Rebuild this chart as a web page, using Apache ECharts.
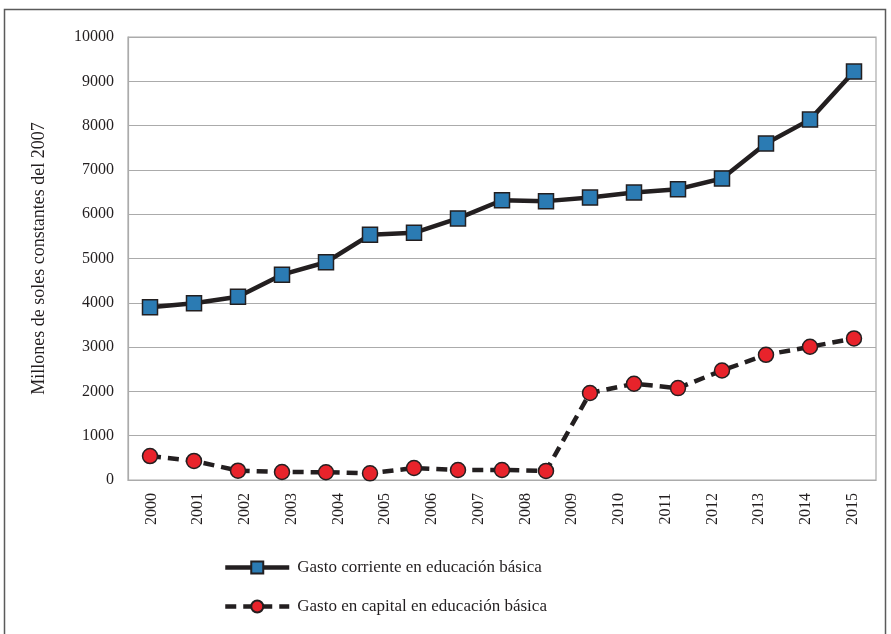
<!DOCTYPE html>
<html>
<head>
<meta charset="utf-8">
<script src="https://cdn.jsdelivr.net/npm/echarts@6/dist/echarts.min.js"></script>
<style>
  html, body { margin: 0; padding: 0; background: #ffffff; }
  #chart { width: 891px; height: 634px; }
</style>
</head>
<body>
<div id="chart"></div>
<script>
// Year labels shown along the bottom axis
const yearLabels = ['2000','2001','2002','2003','2004','2005','2006','2007',
                    '2008','2009','2010','2011','2012','2013','2014','2015'];

// Data slots: the series carry 17 observations, spread evenly over the plot width
const slotLabels = ['1','2','3','4','5','6','7','8','9','10','11','12','13','14','15','16','17'];

// Millones de soles constantes del 2007
const gastoCorriente = [3900, 3990, 4135, 4635, 4915, 5535, 5580, 5905,
                        6315, 6295, 6375, 6490, 6565, 6805, 7595, 8135, 9220];
const gastoCapital   = [540, 430, 211, 181, 175, 150, 271, 226,
                        226, 205, 1964, 2173, 2074, 2471, 2826, 3007, 3196];

const seriesNames = ['Gasto corriente en educación básica',
                     'Gasto en capital en educación básica'];

const FONT = '"Liberation Serif", "DejaVu Serif", serif';
const chart = echarts.init(document.getElementById('chart'), null, { renderer: 'canvas' });

chart.setOption({
  backgroundColor: '#ffffff',
  animation: false,
  graphic: [{
    type: 'rect',
    shape: { x: 4.5, y: 9.5, width: 881, height: 640 },
    style: { fill: 'none', stroke: '#5a5a5a', lineWidth: 1.5 },
    silent: true
  }],
  grid: {
    left: 128, right: 15, top: 37, bottom: 154,
    show: true, borderColor: '#ababab', borderWidth: 1.2,
    backgroundColor: 'transparent'
  },
  legend: {
    orient: 'vertical',
    left: 218, top: 554,
    itemWidth: 64, itemHeight: 15,
    itemGap: 22,
    lineStyle: { width: 4.5 },
    textStyle: { fontFamily: FONT, fontSize: 17, color: '#231f20', padding: [0, 0, 0, 3] },
    data: seriesNames
  },
  xAxis: [{
    type: 'category',
    data: yearLabels,
    boundaryGap: true,
    axisLine: { lineStyle: { color: '#ababab', width: 1.2 } },
    axisTick: { show: false },
    axisLabel: {
      rotate: 90, margin: 13, interval: 0,
      fontFamily: FONT, fontSize: 16, color: '#231f20'
    },
    splitLine: { show: false }
  }, {
    type: 'category',
    data: slotLabels,
    boundaryGap: true,
    show: false
  }],
  yAxis: {
    type: 'value',
    min: 0, max: 10000, interval: 1000,
    name: 'Millones de soles constantes del 2007',
    nameLocation: 'middle',
    nameGap: 80,
    nameTextStyle: { fontFamily: FONT, fontSize: 18, color: '#231f20' },
    axisLine: { show: true, lineStyle: { color: '#ababab', width: 1.2 } },
    axisTick: { show: false },
    axisLabel: {
      margin: 14, fontFamily: FONT, fontSize: 16, color: '#231f20',
      formatter: function (v) { return String(v); }
    },
    splitLine: { lineStyle: { color: '#ababab', width: 1.2 } }
  },
  series: [{
    name: seriesNames[0],
    type: 'line',
    xAxisIndex: 1,
    data: gastoCorriente,
    symbol: 'rect',
    symbolSize: 15,
    lineStyle: { color: '#231f20', width: 4.5 },
    itemStyle: { color: '#2b7bb3', borderColor: '#231f20', borderWidth: 1.5 }
  }, {
    name: seriesNames[1],
    type: 'line',
    xAxisIndex: 1,
    data: gastoCapital,
    symbol: 'circle',
    symbolSize: 15,
    lineStyle: { color: '#231f20', width: 4.5, type: [11, 7] },
    itemStyle: { color: '#e8232b', borderColor: '#231f20', borderWidth: 1.5 }
  }]
});
</script>
</body>
</html>
